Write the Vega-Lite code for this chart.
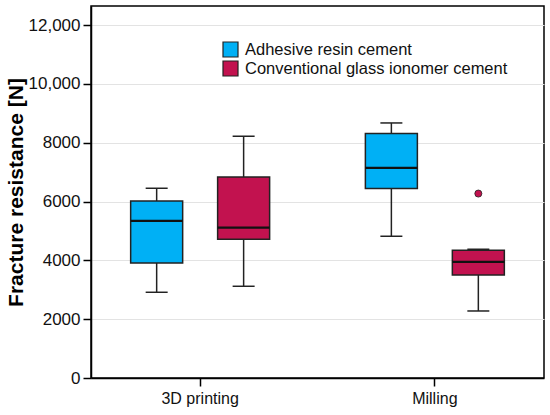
{
  "$schema": "https://vega.github.io/schema/vega-lite/v6.json",
  "autosize": "none",
  "width": 453,
  "height": 372,
  "padding": {"left": 91, "top": 6, "right": 6, "bottom": 37},
  "background": "white",
  "config": {
    "font": "Liberation Sans",
    "view": {"stroke": "black", "strokeWidth": 1.5},
    "axis": {
      "domainColor": "black",
      "domainWidth": 1.5,
      "tickColor": "black",
      "tickWidth": 1.5,
      "tickSize": 8,
      "labelColor": "#111",
      "labelFont": "Liberation Sans"
    }
  },
  "datasets": {
    "boxes": [
      {"method": "3D printing", "cement": "Adhesive resin cement", "lower": 2915, "q1": 3911, "median": 5340, "q3": 6020, "upper": 6452},
      {"method": "3D printing", "cement": "Conventional glass ionomer cement", "lower": 3119, "q1": 4718, "median": 5116, "q3": 6837, "upper": 8221},
      {"method": "Milling", "cement": "Adhesive resin cement", "lower": 4820, "q1": 6442, "median": 7143, "q3": 8313, "upper": 8673},
      {"method": "Milling", "cement": "Conventional glass ionomer cement", "lower": 2279, "q1": 3503, "median": 3946, "q3": 4343, "upper": 4378}
    ],
    "outliers": [
      {"method": "Milling", "cement": "Conventional glass ionomer cement", "value": 6272}
    ]
  },
  "data": {"name": "boxes"},
  "encoding": {
    "x": {
      "field": "method",
      "type": "nominal",
      "title": null,
      "scale": {"paddingInner": 0.07, "paddingOuter": 0},
      "axis": {"labelAngle": 0, "labelFontSize": 16, "labelPadding": 4, "grid": false}
    },
    "xOffset": {
      "field": "cement",
      "type": "nominal",
      "scale": {"paddingInner": 0, "paddingOuter": 0.255}
    }
  },
  "layer": [
    {
      "mark": {"type": "rule", "color": "#222", "strokeWidth": 1.5},
      "encoding": {
        "y": {
          "field": "lower",
          "type": "quantitative",
          "scale": {"domain": [0, 12650], "nice": false},
          "title": "Fracture resistance [N]",
          "axis": {
            "values": [0, 2000, 4000, 6000, 8000, 10000, 12000],
            "labelExpr": "datum.value >= 10000 ? format(datum.value, ',') : format(datum.value, 'd')",
            "labelFontSize": 17,
            "labelPadding": 3,
            "titleFontSize": 21,
            "titleFontWeight": "bold",
            "titleColor": "black",
            "titlePadding": 2,
            "grid": true,
            "gridColor": "#e3e3e3",
            "gridWidth": 1.2
          }
        },
        "y2": {"field": "upper"}
      }
    },
    {
      "mark": {"type": "bar", "size": 52, "stroke": "#222", "strokeWidth": 1.5},
      "encoding": {
        "y": {"field": "q1", "type": "quantitative"},
        "y2": {"field": "q3"},
        "color": {
          "field": "cement",
          "type": "nominal",
          "scale": {
            "domain": ["Adhesive resin cement", "Conventional glass ionomer cement"],
            "range": ["#00b0f5", "#c2124f"]
          },
          "legend": {
            "title": null,
            "orient": "none",
            "legendX": 131,
            "legendY": 35,
            "padding": 0,
            "symbolType": "square",
            "symbolSize": 225,
            "symbolStrokeColor": "#222",
            "symbolStrokeWidth": 1.2,
            "symbolOpacity": 1,
            "labelFontSize": 16.5,
            "labelColor": "#111",
            "labelOffset": 6,
            "rowPadding": -3,
            "labelLimit": 400
          }
        }
      }
    },
    {
      "mark": {"type": "tick", "color": "#111", "size": 52, "thickness": 2.2, "opacity": 1},
      "encoding": {
        "y": {"field": "median", "type": "quantitative"}
      }
    },
    {
      "mark": {"type": "tick", "color": "#222", "size": 22, "thickness": 1.5, "opacity": 1},
      "encoding": {
        "y": {"field": "lower", "type": "quantitative"}
      }
    },
    {
      "mark": {"type": "tick", "color": "#222", "size": 22, "thickness": 1.5, "opacity": 1},
      "encoding": {
        "y": {"field": "upper", "type": "quantitative"}
      }
    },
    {
      "data": {"name": "outliers"},
      "mark": {"type": "point", "filled": true, "color": "#c2124f", "stroke": "#222", "strokeWidth": 0.8, "size": 50, "opacity": 1},
      "encoding": {
        "y": {"field": "value", "type": "quantitative"}
      }
    }
  ]
}
